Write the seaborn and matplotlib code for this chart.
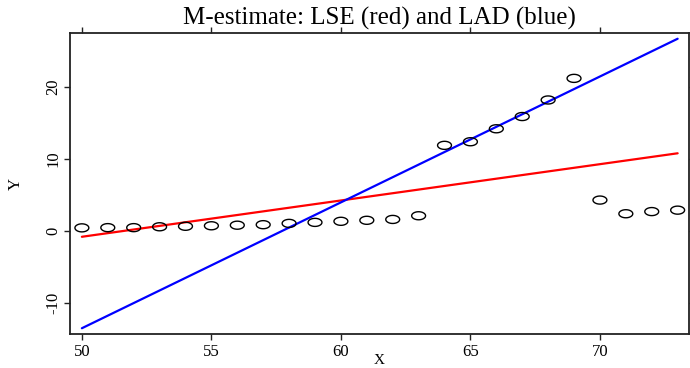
import numpy as np
import pandas as pd
import matplotlib
matplotlib.use("Agg")
import matplotlib.pyplot as plt
import matplotlib.path as mpath
import seaborn as sns

# Belgian phone calls data (year, calls)
years = [50, 51, 52, 53, 54, 55, 56, 57, 58, 59, 60, 61,
         62, 63, 64, 65, 66, 67, 68, 69, 70, 71, 72, 73]
calls = [0.44, 0.47, 0.47, 0.59, 0.66, 0.73, 0.81, 0.88, 1.06, 1.20, 1.35, 1.49,
         1.61, 2.12, 11.90, 12.40, 14.20, 15.90, 18.20, 21.20, 4.30, 2.40, 2.70, 2.90]

# LAD fit coefficients
lad_intercept = -100.9
lad_slope = 1.748

x_ticks = [50, 55, 60, 65, 70]
y_ticks = [-10, 0, 10, 20]


def main():
    sns.set_style("ticks")
    plt.rcParams["font.family"] = ["Liberation Serif", "DejaVu Serif"]
    plt.rcParams["axes.unicode_minus"] = False
    plt.rcParams["text.color"] = "black"
    plt.rcParams["axes.labelcolor"] = "black"
    plt.rcParams["xtick.color"] = "black"
    plt.rcParams["ytick.color"] = "black"

    fig = plt.figure(figsize=(6.9, 3.68), dpi=100)
    ax = fig.add_axes([0.1014, 0.0924, 0.8972, 0.8179])

    df = pd.DataFrame({"X": years, "Y": calls})

    # least squares line
    b, a = np.polyfit(df["X"], df["Y"], 1)
    xr = np.array([df["X"].min(), df["X"].max()])
    fits = pd.DataFrame({
        "X": np.concatenate([xr, xr]),
        "Y": np.concatenate([a + b * xr, lad_intercept + lad_slope * xr]),
        "fit": ["LSE", "LSE", "LAD", "LAD"],
    })

    # wide open ellipse marker
    t = np.linspace(0, 2 * np.pi, 60)
    ell = mpath.Path(np.column_stack([np.cos(t), 0.58 * np.sin(t)]), closed=True)

    sns.scatterplot(data=df, x="X", y="Y", ax=ax, marker=ell, s=100,
                    facecolors="none", edgecolor="black", linewidth=1.0,
                    zorder=3)
    sns.lineplot(data=fits, x="X", y="Y", hue="fit", ax=ax,
                 palette={"LSE": "#ff0000", "LAD": "#0000ff"},
                 linewidth=1.6, legend=False, zorder=2)

    ax.set_xlim(49.54, 73.44)
    ax.set_ylim(-14.3, 27.5)
    ax.set_xticks(x_ticks)
    ax.set_yticks(y_ticks)
    ax.tick_params(axis="both", direction="out", length=4, width=1.0,
                   top=True, right=True, labelsize=12, color="#222222",
                   labelcolor="black")
    ax.tick_params(axis="x", pad=3)
    ax.tick_params(axis="y", pad=2)
    for lab in ax.get_yticklabels():
        lab.set_rotation(90)
        lab.set_verticalalignment("center")
    for sp in ax.spines.values():
        sp.set_linewidth(1.3)
        sp.set_color("#222222")

    ax.set_xlabel("X", fontsize=11, labelpad=-4)
    ax.set_ylabel("Y", fontsize=12, labelpad=16)
    ax.set_title("M-estimate: LSE (red) and LAD (blue)", fontsize=18, pad=6,
                 color="black")

    fig.savefig("out.png", dpi=100)


if __name__ == "__main__":
    main()
